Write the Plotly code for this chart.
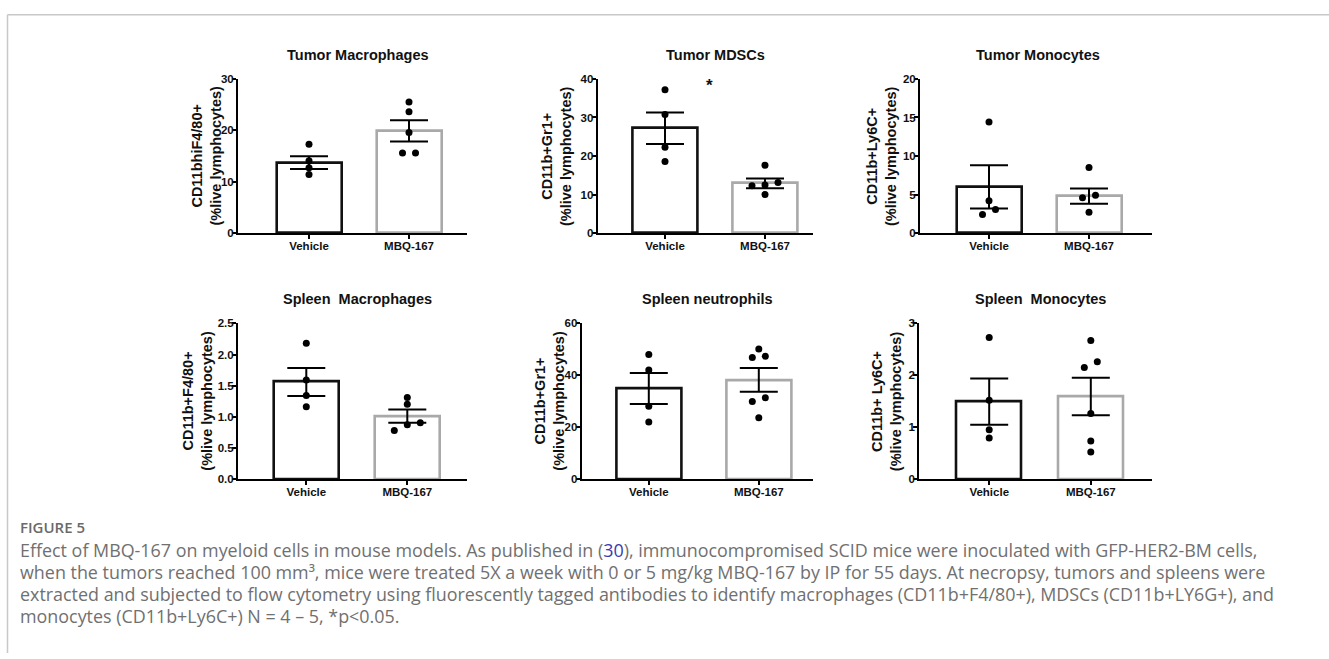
import plotly.graph_objects as go

# ---------------- data ----------------
categories = ["Vehicle", "MBQ-167"]

panel_titles = ["Tumor Macrophages", "Tumor MDSCs", "Tumor Monocytes",
                "Spleen\u00a0 Macrophages", "Spleen neutrophils", "Spleen\u00a0 Monocytes"]
y_titles = ["CD11bhiF4/80+", "CD11b+Gr1+", "CD11b+Ly6C+",
            "CD11b+F4/80+", "CD11b+Gr1+", "CD11b+ Ly6C+"]
y_subtitle = "(%live lymphocytes)"

tumor_mac_vehicle = [17.3, 14.1, 12.7, 11.4]
tumor_mac_mbq = [25.5, 23.6, 19.6, 15.6, 15.6]
tumor_mac_mean = [13.7, 19.9]
tumor_mac_sem = [1.25, 2.05]
tumor_mac_ticks = ["0", "10", "20", "30"]

tumor_mdsc_vehicle = [37.2, 30.8, 22.3, 18.6]
tumor_mdsc_mbq = [17.6, 13.1, 12.5, 12.3, 10.0]
tumor_mdsc_mean = [27.2, 12.9]
tumor_mdsc_sem = [4.1, 1.25]
tumor_mdsc_ticks = ["0", "10", "20", "30", "40"]

tumor_mono_vehicle = [14.4, 4.2, 3.05, 2.4]
tumor_mono_mbq = [8.5, 4.9, 4.6, 2.7]
tumor_mono_mean = [6.0, 4.8]
tumor_mono_sem = [2.8, 1.0]
tumor_mono_ticks = ["0", "5", "10", "15", "20"]

spleen_mac_vehicle = [2.18, 1.59, 1.34, 1.16]
spleen_mac_mbq = [1.31, 1.2, 0.905, 0.87, 0.78]
spleen_mac_mean = [1.56, 1.01]
spleen_mac_sem = [0.225, 0.105]
spleen_mac_ticks = ["0.0", "0.5", "1.0", "1.5", "2.0", "2.5"]

spleen_neu_vehicle = [48.0, 42.0, 28.0, 22.0]
spleen_neu_mbq = [50.1, 47.3, 46.8, 31.3, 29.9, 23.6]
spleen_neu_mean = [34.9, 38.2]
spleen_neu_sem = [6.0, 4.55]
spleen_neu_ticks = ["0", "20", "40", "60"]

spleen_mono_vehicle = [2.73, 1.52, 0.95, 0.79]
spleen_mono_mbq = [2.67, 2.26, 2.15, 1.26, 0.73, 0.52]
spleen_mono_mean = [1.49, 1.59]
spleen_mono_sem = [0.445, 0.36]
spleen_mono_ticks = ["0", "1", "2", "3"]

significance_label = "*"

caption_head = "FIGURE 5"
caption_lines = [
    "Effect of MBQ-167 on myeloid cells in mouse models. As published in (<span style='color:#3b3bb0'>30</span>), immunocompromised SCID mice were inoculated with GFP-HER2-BM cells,",
    "when the tumors reached 100 mm\u00b3, mice were treated 5X a week with 0 or 5 mg/kg MBQ-167 by IP for 55 days. At necropsy, tumors and spleens were",
    "extracted and subjected to flow cytometry using fluorescently tagged antibodies to identify macrophages (CD11b+F4/80+), MDSCs (CD11b+LY6G+), and",
    "monocytes (CD11b+Ly6C+) N = 4 \u2013 5, *p&lt;0.05.",
]

panels = [
    (tumor_mac_vehicle, tumor_mac_mbq, tumor_mac_mean, tumor_mac_sem, tumor_mac_ticks),
    (tumor_mdsc_vehicle, tumor_mdsc_mbq, tumor_mdsc_mean, tumor_mdsc_sem, tumor_mdsc_ticks),
    (tumor_mono_vehicle, tumor_mono_mbq, tumor_mono_mean, tumor_mono_sem, tumor_mono_ticks),
    (spleen_mac_vehicle, spleen_mac_mbq, spleen_mac_mean, spleen_mac_sem, spleen_mac_ticks),
    (spleen_neu_vehicle, spleen_neu_mbq, spleen_neu_mean, spleen_neu_sem, spleen_neu_ticks),
    (spleen_mono_vehicle, spleen_mono_mbq, spleen_mono_mean, spleen_mono_sem, spleen_mono_ticks),
]

# ---------------- layout geometry (pixels) ----------------
W, H = 1329, 659
# left, right, top, bottom of axes; first category centre; category spacing
geom = [
    (238.0, 467.0, 74.3, 231.3, 309.0, 100.0),
    (597.7, 813.0, 74.3, 231.3, 665.0, 100.0),
    (920.0, 1152.0, 74.3, 231.3, 989.0, 100.0),
    (238.0, 467.0, 323.3, 481.7, 306.3, 101.0),
    (581.7, 813.0, 323.3, 481.7, 648.8, 110.0),
    (919.3, 1152.0, 323.3, 481.7, 989.2, 101.6),
]
title_pos = [(358, 50), (715, 50), (1038, 50), (357, 298), (708, 298), (1040, 298)]
ytitle_x = [206.5, 556, 881, 197.5, 549.5, 886]
bar_px = 65
dot_px = 7
cluster_px = 6.5
spread_px = 13

FONT = "Arial, 'Liberation Sans', sans-serif"
CAP_FONT = "'Open Sans', sans-serif"
bar_colors = ["#111111", "#a9a9a9"]


def px_x(p):
    return p / W


def px_y(p):
    return 1 - p / H


def swarm(values, px_per_unit):
    """Horizontal pixel offsets: points closer than cluster_px are spread side by side."""
    order = sorted(range(len(values)), key=lambda i: values[i])
    offsets = [0.0] * len(values)
    clusters, cur = [], [order[0]]
    for a, b in zip(order, order[1:]):
        if (values[b] - values[a]) * px_per_unit < cluster_px:
            cur.append(b)
        else:
            clusters.append(cur)
            cur = [b]
    clusters.append(cur)
    for c in clusters:
        k = len(c)
        for j, idx in enumerate(c):
            offsets[idx] = (j - (k - 1) / 2) * spread_px
    return offsets


fig = go.Figure()
annotations = []

for i, (veh, mbq, mean, sem, ticks) in enumerate(panels):
    L, R, T, B, c0, s = geom[i]
    n = i + 1
    xa = "x" if n == 1 else f"x{n}"
    ya = "y" if n == 1 else f"y{n}"
    tickvals = [float(t) for t in ticks]
    ymax = tickvals[-1]
    ppu = (B - T) / ymax

    fig.add_trace(go.Bar(
        x=[0, 1], y=mean, width=bar_px / s,
        marker=dict(color="white", line=dict(color=bar_colors, width=2.6)),
        error_y=dict(type="data", array=sem, visible=True, color="black",
                     thickness=2, width=19),
        xaxis=xa, yaxis=ya, showlegend=False, cliponaxis=False,
    ))
    for gi, grp in enumerate([veh, mbq]):
        offs = swarm(grp, ppu)
        fig.add_trace(go.Scatter(
            x=[gi + o / s for o in offs], y=grp, mode="markers",
            marker=dict(color="black", size=dot_px, line=dict(width=0)),
            xaxis=xa, yaxis=ya, showlegend=False, cliponaxis=False,
        ))

    xkey = "xaxis" if n == 1 else f"xaxis{n}"
    ykey = "yaxis" if n == 1 else f"yaxis{n}"
    fig.layout[xkey] = dict(
        domain=[px_x(L), px_x(R)], anchor=ya,
        range=[(L - c0) / s, (R - c0) / s],
        tickvals=[0, 1], ticktext=categories,
        showline=True, linecolor="black", linewidth=2,
        ticks="outside", ticklen=4, tickwidth=2, tickcolor="black",
        ticklabelstandoff=-3,
        showgrid=False, zeroline=False, fixedrange=True,
        tickfont=dict(family=FONT, size=11.5, color="#111", weight="bold"),
    )
    fig.layout[ykey] = dict(
        domain=[px_y(B), px_y(T)], anchor=xa,
        range=[0, ymax], tickvals=tickvals, ticktext=ticks,
        showline=True, linecolor="black", linewidth=2,
        ticks="outside", ticklen=4, tickwidth=2, tickcolor="black",
        ticklabelstandoff=-4,
        showgrid=False, zeroline=False, fixedrange=True,
        tickfont=dict(family=FONT, size=11.5, color="#111", weight="bold"),
    )

    tx, ty = title_pos[i]
    annotations.append(dict(
        text=panel_titles[i], x=px_x(tx), y=px_y(ty), xref="paper", yref="paper",
        xanchor="center", yanchor="middle", showarrow=False,
        font=dict(family=FONT, size=14.5, color="#111", weight="bold"),
    ))
    annotations.append(dict(
        text=f"{y_titles[i]}<br>{y_subtitle}", x=px_x(ytitle_x[i]), y=px_y((T + B) / 2),
        xref="paper", yref="paper", xanchor="center", yanchor="middle",
        textangle=-90, showarrow=False,
        font=dict(family=FONT, size=14.5, color="#111", weight="bold"),
    ))

# significance star in Tumor MDSCs panel
annotations.append(dict(
    text=significance_label, x=0.44, y=38.2, xref="x2", yref="y2",
    xanchor="center", yanchor="middle", showarrow=False,
    font=dict(family=FONT, size=17, color="#111", weight="bold"),
))

# caption
annotations.append(dict(
    text=caption_head, x=px_x(18), y=px_y(531), xref="paper", yref="paper",
    xanchor="left", yanchor="middle", showarrow=False,
    font=dict(family=CAP_FONT, size=15, color="#6a6a6a", weight=600),
))
for k, line in enumerate(caption_lines):
    annotations.append(dict(
        text=line, x=px_x(18), y=px_y(554 + k * 22.4), xref="paper", yref="paper",
        xanchor="left", yanchor="middle", showarrow=False,
        font=dict(family=CAP_FONT, size=17.9, color="#707070"),
    ))

shapes = [
    dict(type="line", xref="paper", yref="paper", x0=px_x(7.5), x1=px_x(7.5),
         y0=0, y1=px_y(9), line=dict(color="#c8c8c8", width=1.5)),
    dict(type="line", xref="paper", yref="paper", x0=px_x(7.5), x1=1,
         y0=px_y(9), y1=px_y(9), line=dict(color="#c8c8c8", width=1.5)),
]

fig.update_layout(
    width=W, height=H, margin=dict(l=0, r=0, t=0, b=0),
    paper_bgcolor="white", plot_bgcolor="rgba(0,0,0,0)",
    annotations=annotations, shapes=shapes, bargap=0,
)

fig.write_html(
    "out.html",
    config={"displayModeBar": False},
    post_script=(
        "document.documentElement.style.margin='0';"
        "document.documentElement.style.overflow='hidden';"
        "document.body.style.margin='0';document.body.style.overflow='hidden';"
        "var g=document.getElementById('{plot_id}');"
        "g.style.position='fixed';g.style.left='0px';g.style.top='0px';"
    ),
)
